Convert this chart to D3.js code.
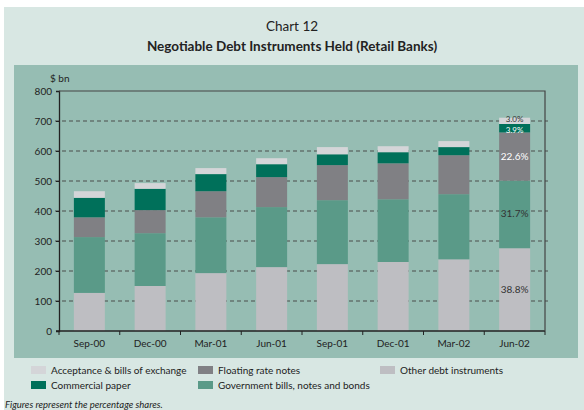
<!DOCTYPE html>
<html>
<head>
<meta charset="utf-8">
<script src="https://cdn.jsdelivr.net/npm/d3@7"></script>
<style>
  body{margin:0;background:#fff}
  svg text{font-family:Lato,"Open Sans",sans-serif}
</style>
</head>
<body>
<svg id="chart" width="584" height="410"></svg>
<script>
// quarters on the x axis
const periods = ['Sep-00','Dec-00','Mar-01','Jun-01','Sep-01','Dec-01','Mar-02','Jun-02']
// $ bn (bottom to top)
const otherDebt   = [127,150,193,213,223,230,239,276]
const govBills    = [186,176,186,200,213,209,217,225]
const floatNotes  = [ 66, 77, 87,100,117,120,130,161]
const commPaper   = [ 65, 71, 57, 43, 36, 37, 27, 28]
const acceptances = [ 22, 19, 20, 20, 24, 20, 20, 21]
// shares printed on the last bar
const lastShares  = ['38.8%','31.7%','22.6%','3.9%','3.0%']
const yTicks = [0,100,200,300,400,500,600,700,800]

const series = [
  {key:'other', name:'Other debt instruments', values:otherDebt, color:'#bebec2', txt:'#333'},
  {key:'gov', name:'Government bills, notes and bonds', values:govBills, color:'#5a9a88', txt:'#333'},
  {key:'frn', name:'Floating rate notes', values:floatNotes, color:'#808084', txt:'#fff'},
  {key:'cp', name:'Commercial paper', values:commPaper, color:'#00705a', txt:'#fff'},
  {key:'acc', name:'Acceptance & bills of exchange', values:acceptances, color:'#d4d5d8', txt:'#333'}
]

const table = periods.map((p,i)=>{
  let row = {period:p}
  series.forEach(s=>{ row[s.key]=s.values[i] })
  return row
})

const svg = d3.select('#chart')
svg.append('rect').attr('x',4).attr('y',7).attr('width',580).attr('height',403).attr('fill','#d8e7e3')
svg.append('rect').attr('x',14).attr('y',65).attr('width',564).attr('height',293).attr('fill','#96bdb3')

svg.append('text').attr('x',292).attr('y',31).attr('text-anchor','middle')
  .attr('font-size',13.5).attr('fill','#222').text('Chart 12')
svg.append('text').attr('x',292).attr('y',51).attr('text-anchor','middle')
  .attr('font-size',13.5).attr('font-weight','bold').attr('fill','#222')
  .text('Negotiable Debt Instruments Held (Retail Banks)')

const m = {left:59, right:545, top:91, bottom:331}
const x = d3.scaleBand().domain(periods).range([m.left,m.right]).paddingInner(0.49).paddingOuter(0.245)
const y = d3.scaleLinear().domain([0,800]).range([m.bottom,m.top])

// dashed grid
svg.append('g').selectAll('line')
  .data(yTicks.filter(t=>t>0 && t<800))
  .enter().append('line')
  .attr('x1',m.left-4).attr('x2',m.right+3)
  .attr('y1',d=>y(d)).attr('y2',d=>y(d))
  .attr('stroke','#4a4f4d').attr('stroke-width',1.2).attr('stroke-dasharray','4,3')

const stack = d3.stack().keys(series.map(s=>s.key))(table)

const layers = svg.append('g').selectAll('g')
  .data(stack).enter().append('g')
  .attr('fill',(d,i)=>series[i].color)
layers.selectAll('rect')
  .data(d=>d).enter().append('rect')
  .attr('x',d=>x(d.data.period))
  .attr('width',x.bandwidth())
  .attr('y',d=>y(d[1]))
  .attr('height',d=>y(d[0])-y(d[1]))

// percentage labels on Jun-02
const last = periods.length-1
const nudge = [0,0,0,1.5,-1.5]
svg.append('g').selectAll('text')
  .data(stack).enter().append('text')
  .attr('x',x(periods[last])+x.bandwidth()/2)
  .attr('y',(d,i)=>(y(d[last][0])+y(d[last][1]))/2+3+nudge[i])
  .attr('text-anchor','middle')
  .attr('font-size',(d,i)=>i>2?8:10)
  .attr('fill',(d,i)=>series[i].txt)
  .text((d,i)=>lastShares[i])

// axes
const yAxis = svg.append('g').attr('transform',`translate(${m.left},0)`)
  .call(d3.axisLeft(y).tickValues(yTicks).tickSize(3).tickPadding(4))
yAxis.select('.domain').attr('stroke','#222').attr('stroke-width',1.3)
yAxis.selectAll('line').attr('stroke','#222')
yAxis.selectAll('text').attr('font-size',10).attr('fill','#222')
  .style('font-family','Lato,sans-serif')

const xAxis = svg.append('g').attr('transform',`translate(0,${m.bottom})`)
  .call(d3.axisBottom(x).tickSize(0).tickPadding(9))
xAxis.select('.domain').remove()
xAxis.selectAll('text').attr('font-size',10).attr('fill','#222')
  .style('font-family','Lato,sans-serif')

svg.append('line').attr('x1',m.left-3).attr('x2',m.right).attr('y1',m.bottom).attr('y2',m.bottom)
  .attr('stroke','#222').attr('stroke-width',1.3)
svg.append('g').selectAll('line')
  .data(d3.range(periods.length+1))
  .enter().append('line')
  .attr('x1',i=>m.left+i*x.step()).attr('x2',i=>m.left+i*x.step())
  .attr('y1',m.bottom).attr('y2',m.bottom+4)
  .attr('stroke','#222')
// top and right frame
svg.append('path')
  .attr('d',`M${m.left},${m.top}H${m.right}V${m.bottom}`)
  .attr('fill','none').attr('stroke','#444').attr('stroke-width',1.2)

svg.append('text').attr('x',50).attr('y',82).attr('font-size',10).attr('fill','#222').text('$ bn')

// legend
const legendPos = [
  {key:'acc', x:31, y:370},
  {key:'cp', x:31, y:385},
  {key:'frn', x:198, y:370},
  {key:'gov', x:198, y:385},
  {key:'other', x:380, y:370}
]
const lg = svg.append('g').selectAll('g')
  .data(legendPos).enter().append('g')
  .attr('transform',d=>`translate(${d.x},${d.y})`)
lg.append('rect').attr('y',-4).attr('width',15).attr('height',8)
  .attr('fill',d=>series.find(s=>s.key===d.key).color)
lg.append('text').attr('x',20).attr('y',4).attr('font-size',10).attr('fill','#222')
  .text(d=>series.find(s=>s.key===d.key).name)

svg.append('text').attr('x',5).attr('y',408).attr('font-size',9.5).attr('font-style','italic')
  .attr('fill','#222').text('Figures represent the percentage shares.')
</script>
</body>
</html>
